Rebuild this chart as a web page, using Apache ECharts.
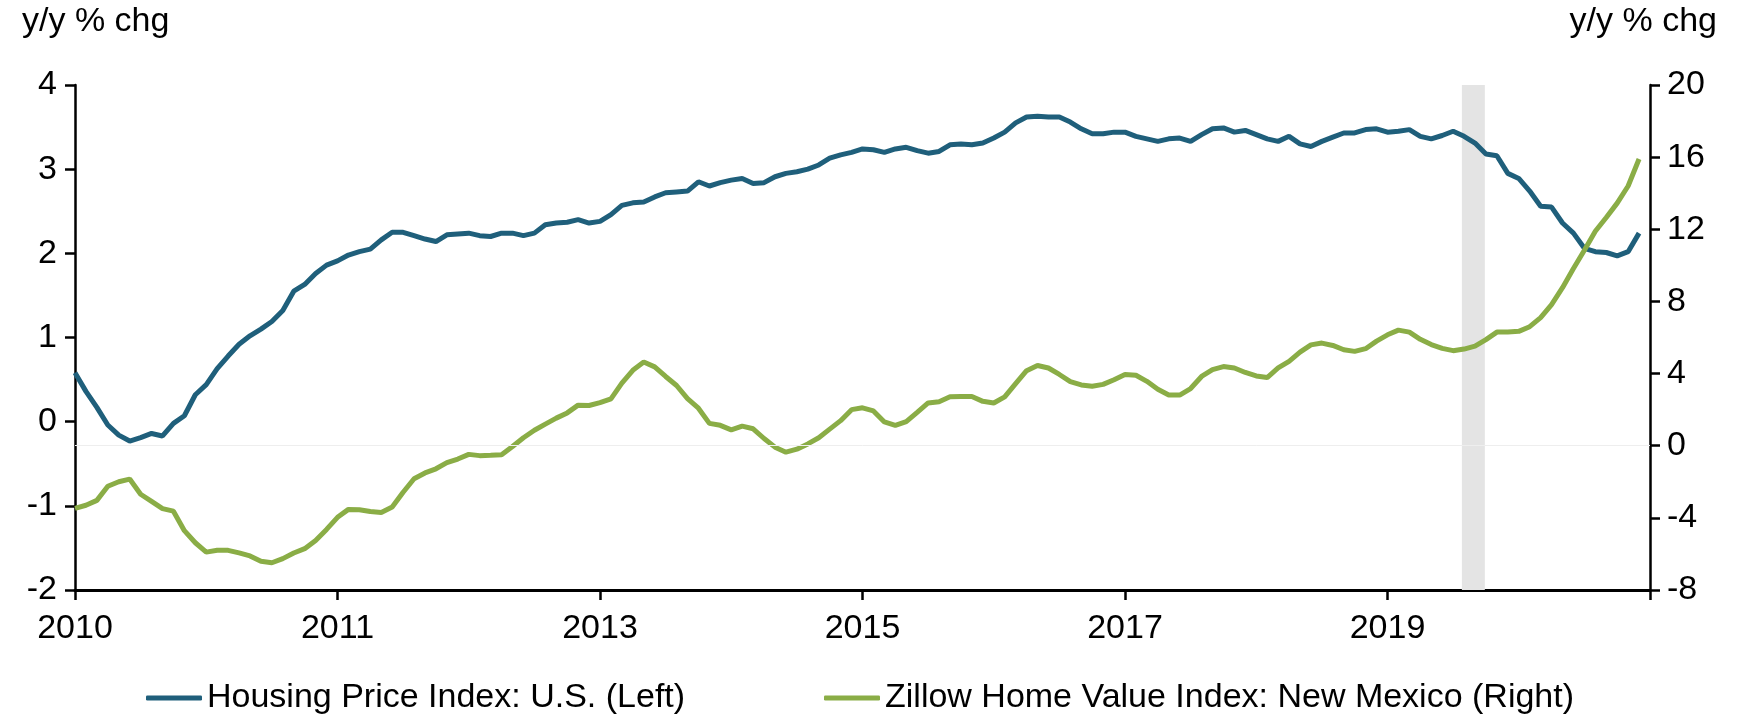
<!DOCTYPE html>
<html>
<head>
<meta charset="utf-8">
<title>HPI vs Zillow NM</title>
<script src="https://cdn.jsdelivr.net/npm/echarts@6/dist/echarts.min.js"></script>
<style>
	html, body { margin: 0; padding: 0; background: #fff; }
	#chart { width: 1743px; height: 719px; }
</style>
</head>
<body>
<div id="chart"></div>
<script>
// x tick labels, one every 24 months (last tick has no label)
const xTickLabels = ["2010", "2011", "2013", "2015", "2017", "2019", ""];

// Housing Price Index: U.S., y/y % chg (left axis), monthly
const hpiUS = [
	0.58, 0.36, 0.17, -0.04, -0.16, -0.23, -0.19, -0.14, -0.17, -0.02, 0.07, 0.32,
	0.44, 0.63, 0.78, 0.92, 1.02, 1.10, 1.19, 1.32, 1.55, 1.63, 1.76, 1.86,
	1.91, 1.98, 2.02, 2.05, 2.16, 2.25, 2.25, 2.21, 2.17, 2.14, 2.22, 2.23,
	2.24, 2.21, 2.20, 2.24, 2.24, 2.21, 2.24, 2.34, 2.36, 2.37, 2.40, 2.36,
	2.38, 2.46, 2.57, 2.60, 2.61, 2.67, 2.72, 2.73, 2.74, 2.85, 2.80, 2.84,
	2.87, 2.89, 2.83, 2.84, 2.91, 2.95, 2.97, 3.00, 3.05, 3.13, 3.17, 3.20,
	3.24, 3.23, 3.20, 3.24, 3.26, 3.22, 3.19, 3.21, 3.29, 3.30, 3.29, 3.31,
	3.37, 3.44, 3.55, 3.62, 3.63, 3.62, 3.62, 3.56, 3.48, 3.42, 3.42, 3.44,
	3.44, 3.39, 3.36, 3.33, 3.36, 3.37, 3.33, 3.41, 3.48, 3.49, 3.44, 3.46,
	3.41, 3.36, 3.33, 3.39, 3.30, 3.27, 3.33, 3.38, 3.43, 3.43, 3.47, 3.48,
	3.44, 3.45, 3.47, 3.39, 3.36, 3.40, 3.45, 3.39, 3.31, 3.18, 3.16, 2.95,
	2.89, 2.74, 2.56, 2.55, 2.36, 2.24, 2.06, 2.02, 2.01, 1.97, 2.02, 2.24
];

// Zillow Home Value Index: New Mexico, y/y % chg (right axis), monthly
const zhviNM = [
	-3.47, -3.30, -3.03, -2.25, -2.00, -1.85, -2.69, -3.09, -3.49, -3.63, -4.71, -5.38,
	-5.90, -5.80, -5.80, -5.94, -6.11, -6.41, -6.49, -6.26, -5.95, -5.71, -5.25, -4.64,
	-3.97, -3.53, -3.55, -3.65, -3.70, -3.40, -2.58, -1.83, -1.51, -1.28, -0.94, -0.74,
	-0.48, -0.55, -0.53, -0.50, -0.04, 0.44, 0.86, 1.20, 1.53, 1.82, 2.25, 2.23,
	2.39, 2.60, 3.47, 4.18, 4.64, 4.37, 3.84, 3.34, 2.61, 2.08, 1.24, 1.13,
	0.88, 1.09, 0.94, 0.40, -0.08, -0.36, -0.19, 0.10, 0.44, 0.92, 1.39, 2.00,
	2.10, 1.93, 1.32, 1.13, 1.34, 1.85, 2.37, 2.44, 2.71, 2.73, 2.73, 2.46,
	2.37, 2.71, 3.44, 4.16, 4.45, 4.31, 3.95, 3.55, 3.37, 3.30, 3.40, 3.66,
	3.95, 3.91, 3.57, 3.13, 2.81, 2.81, 3.17, 3.84, 4.22, 4.39, 4.31, 4.06,
	3.87, 3.78, 4.31, 4.68, 5.19, 5.59, 5.69, 5.56, 5.32, 5.23, 5.38, 5.80,
	6.15, 6.41, 6.30, 5.90, 5.61, 5.40, 5.27, 5.36, 5.52, 5.88, 6.30, 6.30,
	6.34, 6.60, 7.10, 7.82, 8.76, 9.83, 10.84, 11.89, 12.65, 13.45, 14.40, 15.90
];

// shaded period (month index on the x axis)
const shadeStart = 126.8;
const shadeEnd = 128.9;

const seriesNames = ["Housing Price Index: U.S. (Left)", "Zillow Home Value Index: New Mexico (Right)"];
const colors = ["#1F5F7B", "#8AAD46"];
const fontFamily = '"Liberation Sans", Arial, sans-serif';
const fontSize = 34;

const chart = echarts.init(document.getElementById("chart"), null, { renderer: "canvas" });

const axisLine = { show: true, lineStyle: { color: "#000", width: 2.5 } };
const axisTick = { show: true, length: 10, lineStyle: { color: "#000", width: 2.5 } };
const labelStyle = { color: "#000", fontSize: fontSize, fontFamily: fontFamily };

const legendBase = {
	top: 681,
	icon: "roundRect",
	itemWidth: 56,
	itemHeight: 5,
	padding: 0,
	textStyle: { color: "#000", fontSize: fontSize, fontFamily: fontFamily },
};

const titleStyle = { color: "#000", fontSize: fontSize, fontWeight: "normal", fontFamily: fontFamily };

const option = {
	animation: false,
	backgroundColor: "#fff",
	title: [
		{ text: "y/y % chg", left: 22, top: 5, padding: 0, textStyle: titleStyle },
		{ text: "y/y % chg", right: 26, top: 5, padding: 0, textStyle: titleStyle },
	],
	legend: [
		Object.assign({ data: [seriesNames[0]], left: 146 }, legendBase),
		Object.assign({ data: [seriesNames[1]], left: 824 }, legendBase),
	],
	grid: { left: 75, right: 93, top: 85, bottom: 129 },
	xAxis: {
		type: "value",
		min: 0,
		max: 144,
		interval: 24,
		axisLine: { show: true, onZero: false, lineStyle: { color: "#000", width: 3 } },
		axisTick: axisTick,
		axisLabel: Object.assign({ margin: 22, formatter: (v) => xTickLabels[Math.round(v / 24)] || "" }, labelStyle),
		splitLine: { show: false },
	},
	yAxis: [
		{
			type: "value",
			position: "left",
			min: -2,
			max: 4,
			interval: 1,
			axisLine: axisLine,
			axisTick: axisTick,
			axisLabel: Object.assign({ margin: 18 }, labelStyle),
			splitLine: { show: false },
		},
		{
			type: "value",
			position: "right",
			min: -8,
			max: 20,
			interval: 4,
			axisLine: axisLine,
			axisTick: axisTick,
			axisLabel: Object.assign({ margin: 17 }, labelStyle),
			splitLine: { show: false },
		},
	],
	series: [
		{
			// shaded band and faint zero line of the right axis
			name: "shade",
			type: "line",
			yAxisIndex: 1,
			data: [],
			z: 1,
			silent: true,
			markArea: {
				silent: true,
				itemStyle: { color: "#E4E4E4" },
				data: [[{ xAxis: shadeStart }, { xAxis: shadeEnd }]],
			},
			markLine: {
				silent: true,
				symbol: ["none", "none"],
				label: { show: false },
				lineStyle: { color: "#EEEEEE", width: 1, type: "solid" },
				data: [{ yAxis: 0 }],
			},
		},
		{
			name: seriesNames[0],
			type: "line",
			yAxisIndex: 0,
			z: 3,
			symbol: "none",
			data: hpiUS.map((v, i) => [i, v]),
			lineStyle: { color: colors[0], width: 5 },
			itemStyle: { color: colors[0] },
		},
		{
			name: seriesNames[1],
			type: "line",
			yAxisIndex: 1,
			z: 4,
			symbol: "none",
			data: zhviNM.map((v, i) => [i, v]),
			lineStyle: { color: colors[1], width: 5 },
			itemStyle: { color: colors[1] },
		},
	],
};

chart.setOption(option);
</script>
</body>
</html>
